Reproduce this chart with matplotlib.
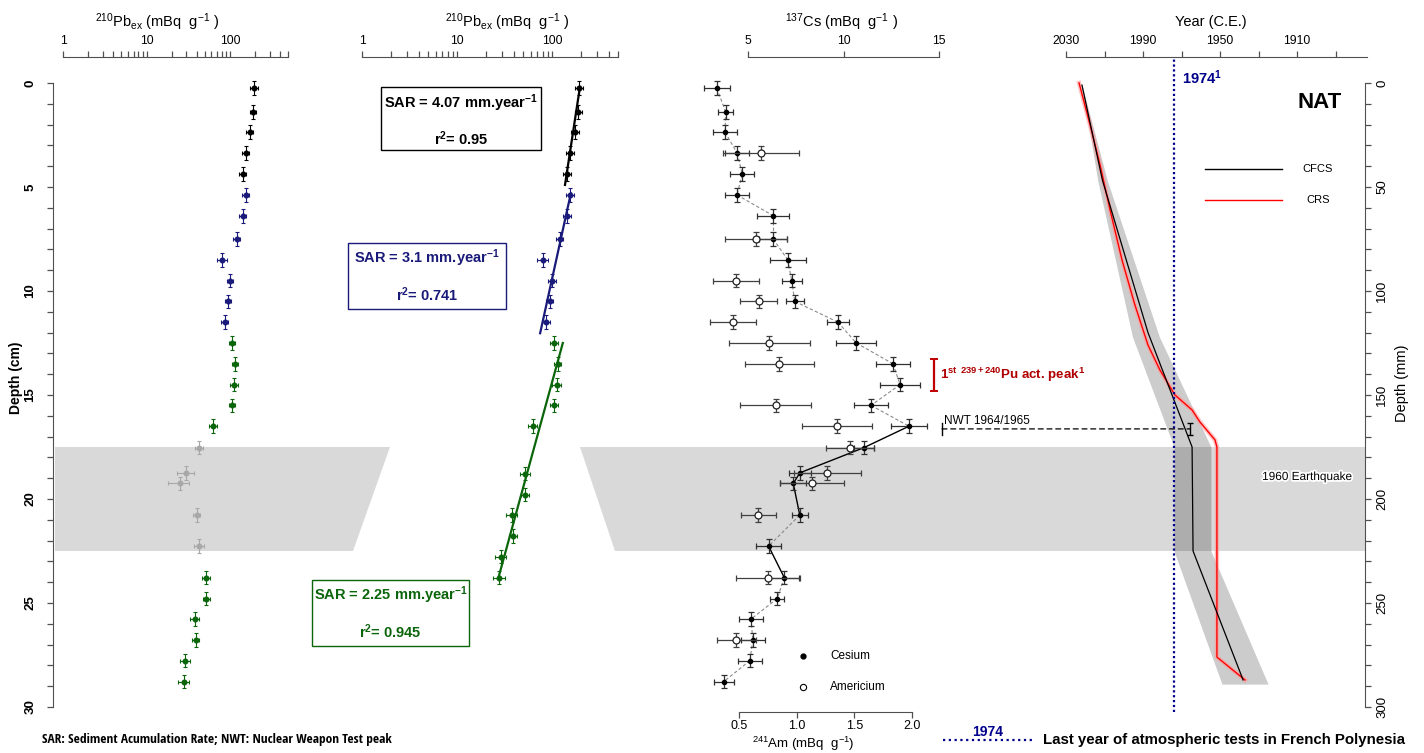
import numpy as np
import matplotlib
matplotlib.use('Agg')
import matplotlib.pyplot as plt
from matplotlib.patches import Polygon, Rectangle, ConnectionPatch
from matplotlib.lines import Line2D
from matplotlib.transforms import blended_transform_factory
from matplotlib.ticker import NullLocator
from matplotlib import font_manager
import matplotlib.patheffects as pe

W, H = 1424, 753
plt.rcParams['font.family'] = ['Liberation Sans', 'DejaVu Sans']
plt.rcParams['mathtext.fontset'] = 'custom'
plt.rcParams['mathtext.rm'] = 'Liberation Sans'
plt.rcParams['mathtext.it'] = 'Liberation Sans:italic'
plt.rcParams['mathtext.bf'] = 'Liberation Sans:bold'

_names = {f.name for f in font_manager.fontManager.ttflist}
NARROW = [n for n in ['Liberation Sans Narrow', 'Open Sans Condensed', 'Arial Narrow']
          if n in _names] + ['Liberation Sans', 'DejaVu Sans']

# ------------------------------------------------------------------ data
slice_depth = [0.25, 1.38, 2.37, 3.38, 4.39, 5.38, 6.38, 7.5, 8.5, 9.5, 10.5, 11.5,
               12.5, 13.5, 14.5, 15.5, 16.5, 17.53, 18.74, 19.25, 20.77, 22.27,
               23.78, 24.79, 25.77, 26.78, 27.77, 28.78]
depth_err = 0.33

pb_val = [194, 189, 174, 155, 143, 155, 143, 121, 80, 100, 95, 87,
          106, 115, 112, 106, 63, 43, 30, 25, 40, 43,
          52, 52, 38, 39, 29, 28]
pb_err = [20, 16, 17, 15, 14, 14, 14, 11, 11, 9, 8, 8,
          10, 10, 11, 10, 7, 5, 7, 7, 4, 6,
          6, 5, 5, 4, 4, 4]
pb_group = ['top'] * 5 + ['mid'] * 7 + ['low'] * 5 + ['event'] * 5 + ['low'] * 6
event_top, event_bot = 17.5, 22.5

fit_top_depth, fit_top_val = [0.18, 4.9], [197, 137]
fit_mid_depth, fit_mid_val = [5.3, 12.03], [158, 75]
fit_low_depth, fit_low_val = [12.5, 23.73], [130, 27.5]
sar_values = ['4.07', '3.1', '2.25']
r2_values = ['0.95', '0.741', '0.945']

cs_val = [3.36, 3.83, 3.80, 4.44, 4.70, 4.42, 6.32, 6.32, 7.08, 7.29, 7.45, 9.71,
          10.67, 12.59, 12.96, 11.44, 13.43, 11.07, 7.72, 7.37, 7.71, 6.08,
          6.90, 6.53, 5.16, 5.25, 5.10, 3.73]
cs_err = [0.68, 0.39, 0.63, 0.63, 0.63, 0.65, 0.84, 0.73, 0.94, 0.52, 0.47, 0.58,
          1.05, 0.89, 1.05, 0.89, 0.94, 0.52, 0.58, 0.68, 0.42, 0.65,
          0.79, 0.37, 0.65, 0.63, 0.63, 0.52]
cs_solid_segments = [16, 17, 18, 19, 21]

am_index = [3, 7, 9, 10, 11, 12, 13, 15, 16, 17, 18, 19, 20, 22, 25]
am_val = [0.69, 0.645, 0.474, 0.673, 0.451, 0.763, 0.85, 0.818, 1.35, 1.463,
          1.266, 1.133, 0.667, 0.751, 0.477]
am_err = [0.33, 0.27, 0.20, 0.16, 0.20, 0.35, 0.30, 0.31, 0.30, 0.21,
          0.29, 0.28, 0.15, 0.28, 0.17]

pu_peak_depth = (13.27, 14.8)
nwt_depth_cm, nwt_year = 16.63, 1965.5

cfcs_depth = [1, 47, 120, 175, 225, 287]
cfcs_year = [2021.7, 2011.0, 1987.4, 1964.5, 1964.0, 1938.0]
env_depth = [1, 47, 122, 175, 225, 289]
env_young = [2021.7, 2013.5, 1995.5, 1973.9, 1973.9, 1949.0]
env_old = [2021.7, 2008.5, 1981.5, 1954.7, 1954.7, 1925.0]
crs_depth = [0, 20.2, 39.4, 61.1, 85.1, 106.7, 126, 138, 150, 157.2, 163, 171.6, 175, 276, 287]
crs_year = [2023.2, 2017.5, 2012.3, 2007.1, 2000.9, 1994.2, 1987.4, 1981.2, 1973.4,
            1964.5, 1960.4, 1952.6, 1951.6, 1951.6, 1937.0]
last_test_year = 1974

log_ticks = [1, 2, 3, 4, 5, 6, 7, 8, 9, 10, 20, 30, 40, 50, 60, 70, 80, 90, 100, 200, 300, 400, 500]
log_labels = {1: '1', 10: '10', 100: '100'}
cs_ticks = [5, 10, 15]
am_ticks = [0.5, 1.0, 1.5, 2.0]
year_ticks = [2030, 2010, 1990, 1970, 1950, 1930, 1910, 1890]
year_labels = {2030: '2030', 1990: '1990', 1950: '1950', 1910: '1910'}

# ------------------------------------------------------------------ colours
C_TOP, C_MID, C_LOW, C_EVT = '#000000', '#1a1a7a', '#0b650b', '#a8a8a8'
group_color = {'top': C_TOP, 'mid': C_MID, 'low': C_LOW, 'event': C_EVT}
AX_C = '#505050'
BAND = '#d9d9d9'
NAVY = '#00008b'

fig = plt.figure(figsize=(W / 100, H / 100), dpi=100)
renderer = fig.canvas.get_renderer()

Y_TOP, Y_BOT = 57, 712       # vertical pixel extent of the panels
Y0, PXCM = 83, 20.8          # pixel of depth 0, pixels per cm


def axes_px(x0, x1):
    ax = fig.add_axes([x0 / W, 1 - Y_BOT / H, (x1 - x0) / W, (Y_BOT - Y_TOP) / H])
    ax.set_facecolor('none')
    for s in ax.spines.values():
        s.set_visible(False)
        s.set_color(AX_C)
    ax.set_ylim((Y_BOT - Y0) / PXCM, (Y_TOP - Y0) / PXCM)
    ax.tick_params(colors=AX_C, labelcolor='black')
    ax.set_yticks([])
    return ax


def ftext(px, py, s, **kw):
    return fig.text(px / W, 1 - py / H, s, **kw)


def fit_width(t, target_px, max_size):
    """shrink a text until it spans target_px pixels"""
    t.set_fontsize(max_size)
    w = t.get_window_extent(renderer).width
    if w > target_px:
        t.set_fontsize(max_size * target_px / w)


def top_axis(ax, ticks, labels, bounds, title, tx):
    ax.xaxis.tick_top()
    ax.spines['top'].set_visible(True)
    ax.spines['top'].set_bounds(*bounds)
    ax.set_xticks(ticks)
    ax.set_xticklabels([labels.get(t, '') for t in ticks])
    ax.xaxis.set_minor_locator(NullLocator())
    ax.tick_params(axis='x', which='major', direction='out', length=4, width=0.9,
                   pad=3, labelsize=8.7)
    ftext(tx, 22, title, ha='center', va='center', fontsize=10.5)


# ----------------------------------------------------------- panel 1
ax1 = axes_px(53, 300)
ax1.set_xscale('log')
ax1.set_xlim(10 ** ((53 - 63) / 83.5), 10 ** ((300 - 63) / 83.5))
top_axis(ax1, log_ticks, log_labels, (1, 500),
         r'$^{210}$Pb$_{\mathrm{ex}}$ (mBq  g$^{-1}$ )', 157)
ax1.spines['left'].set_visible(True)
ax1.spines['left'].set_bounds(0, 30)
ax1.set_yticks(range(0, 31))
ax1.set_yticklabels([str(v) if v % 5 == 0 else '' for v in range(0, 31)],
                    rotation=90, va='center', fontweight='bold', fontsize=9.5)
ax1.tick_params(axis='y', direction='out', length=4, width=0.9, pad=8)
ftext(16, 378, 'Depth (cm)', rotation=90, ha='center', va='center',
      fontweight='bold', fontsize=10)

for g in ['event', 'top', 'mid', 'low']:
    idx = [i for i, gg in enumerate(pb_group) if gg == g]
    ax1.errorbar([pb_val[i] for i in idx], [slice_depth[i] for i in idx],
                 xerr=[pb_err[i] for i in idx], yerr=depth_err, fmt='o',
                 ms=3.3, color=group_color[g], ecolor=group_color[g],
                 elinewidth=0.8, capsize=1.6, capthick=0.8, clip_on=False)

# ----------------------------------------------------------- panel 2
ax2 = axes_px(340, 640)
ax2.set_xscale('log')
ax2.set_xlim(10 ** ((340 - 362) / 95), 10 ** ((640 - 362) / 95))
top_axis(ax2, log_ticks, log_labels, (1, 500),
         r'$^{210}$Pb$_{\mathrm{ex}}$ (mBq  g$^{-1}$ )', 507)
thick = event_bot - event_top
for g in ['top', 'mid', 'low']:
    idx = [i for i, gg in enumerate(pb_group) if gg == g]
    dd = [slice_depth[i] - (thick if slice_depth[i] > event_bot else 0) for i in idx]
    ax2.errorbar([pb_val[i] for i in idx], dd, xerr=[pb_err[i] for i in idx],
                 yerr=depth_err, fmt='o', ms=3.3, color=group_color[g],
                 ecolor=group_color[g], elinewidth=0.8, capsize=1.6, capthick=0.8,
                 clip_on=False)
for dpt, val, col in [(fit_top_depth, fit_top_val, C_TOP),
                      (fit_mid_depth, fit_mid_val, C_MID),
                      (fit_low_depth, fit_low_val, C_LOW)]:
    ax2.plot(val, dpt, color=col, lw=1.6, zorder=5)

# SAR boxes
boxes = [(381, 541, 87, 150, C_TOP, 103, 139),
         (348, 506, 243, 309, C_MID, 258, 295),
         (312, 469, 580, 646, C_LOW, 595, 632)]
for (x0, x1, y0, y1, col, l1, l2), sar, r2 in zip(boxes, sar_values, r2_values):
    fig.add_artist(Rectangle((x0 / W, 1 - y1 / H), (x1 - x0) / W, (y1 - y0) / H,
                             transform=fig.transFigure, fill=False, ec=col, lw=1.0))
    cx = (x0 + x1) / 2
    ftext(cx, l1, 'SAR = ' + sar + r' mm.year$^{\mathbf{-1}}$', ha='center',
          va='center', fontweight='bold', fontsize=10.5, color=col)
    ftext(cx, l2, r'r$^{\mathbf{2}}$= ' + r2, ha='center', va='center',
          fontweight='bold', fontsize=10.5, color=col)

# ----------------------------------------------------------- panel 3
ax3 = axes_px(690, 945)
ax3.set_xlim(5 + (690 - 748) / 19.1, 5 + (945 - 748) / 19.1)
top_axis(ax3, cs_ticks, {t: str(t) for t in cs_ticks}, (5, 15),
         r'$^{137}$Cs (mBq  g$^{-1}$ )', 842)
ax3b = axes_px(690, 945)
ax3b.set_xlim(0.5 + (690 - 739) / 115.3, 0.5 + (945 - 739) / 115.3)
ax3b.spines['bottom'].set_visible(True)
ax3b.spines['bottom'].set_bounds(0.5, 2.0)
ax3b.set_xticks(am_ticks)
ax3b.set_xticklabels(['0.5', '1.0', '1.5', '2.0'])
ax3b.tick_params(axis='x', direction='out', length=4, width=0.9, pad=1.5, labelsize=9)
ftext(803, 744, r'$^{241}$Am (mBq  g$^{-1}$)', ha='center', va='center', fontsize=9.5)

for i in range(len(cs_val) - 1):
    solid = i in cs_solid_segments
    ax3.plot(cs_val[i:i + 2], slice_depth[i:i + 2],
             color='black' if solid else '#8a8a8a',
             lw=1.0 if solid else 0.8, ls='-' if solid else (0, (3, 2)), zorder=2)
ax3.errorbar(cs_val, slice_depth, xerr=cs_err, yerr=depth_err, fmt='o', ms=3,
             color='black', ecolor='#303030', elinewidth=0.9, capsize=2,
             capthick=0.9, zorder=3)
ax3b.errorbar(am_val, [slice_depth[i] for i in am_index], xerr=am_err,
              yerr=depth_err, fmt='o', ms=5, mfc='white', mec='#202020', mew=0.9,
              ecolor='#404040', elinewidth=0.9, capsize=2, capthick=0.9, zorder=4)

# Pu peak marker
ax3.errorbar([5 + (934 - 748) / 19.1], [np.mean(pu_peak_depth)],
             yerr=[(pu_peak_depth[1] - pu_peak_depth[0]) / 2], fmt='none',
             ecolor='#c00000', elinewidth=1.6, capsize=3, capthick=1.4, clip_on=False)
ftext(940, 375, r'1$^{\mathbf{st}}$ $^{\mathbf{239+240}}$Pu act. peak$^{\mathbf{1}}$',
      ha='left', va='center', fontweight='bold', fontsize=9.6, color='#b00000')

# legend of panel 3
fig.add_artist(Line2D([803 / W], [1 - 656 / H], marker='o', ms=3.5, color='black',
                      transform=fig.transFigure))
fig.add_artist(Line2D([803 / W], [1 - 687 / H], marker='o', ms=4.5, mfc='white',
                      mec='black', mew=0.8, color='black', transform=fig.transFigure))
ftext(830, 656, 'Cesium', ha='left', va='center', fontsize=8.5)
ftext(830, 687, 'Americium', ha='left', va='center', fontsize=8.5)

# ----------------------------------------------------------- panel 4
ax4 = axes_px(1060, 1365)
ax4.set_xlim(2030 - (1060 - 1066) / 1.925, 2030 - (1365 - 1066) / 1.925)
ax4.set_ylim((Y_BOT - Y0) / (PXCM / 10), (Y_TOP - Y0) / (PXCM / 10))
top_axis(ax4, year_ticks, year_labels, (2030, 1873.6), 'Year (C.E.)', 1211)
ax4.spines['right'].set_visible(True)
ax4.spines['right'].set_bounds(0, 300)
ax4.yaxis.tick_right()
ax4.set_yticks(range(0, 301, 10))
ax4.set_yticklabels([str(v) if v % 50 == 0 else '' for v in range(0, 301, 10)],
                    rotation=90, va='center', fontsize=9.5)
ax4.tick_params(axis='y', direction='out', length=4, width=0.9, pad=4)
ftext(1402, 383, 'Depth (mm)', rotation=90, ha='center', va='center', fontsize=10.5)

ax4.fill_betweenx(env_depth, env_young, env_old, color='black', alpha=0.2, lw=0, zorder=1)
ax4.plot(crs_year, crs_depth, color='#ff9a9a', lw=3.2, alpha=0.6, zorder=2)
ax4.plot(crs_year, crs_depth, color='#ff0000', lw=1.0, zorder=3)
ax4.plot(cfcs_year, cfcs_depth, color='black', lw=0.9, zorder=4)
ax4.axvline(last_test_year, color=NAVY, lw=1.6, ls=(0, (1, 1.2)), zorder=5)
ax4.errorbar([nwt_year], [nwt_depth_cm * 10], yerr=[3], fmt='none', ecolor='black',
             elinewidth=1.0, capsize=2.5, capthick=1.0, zorder=6)
ftext(1182, 78, r'1974$^{\mathbf{1}}$', ha='left', va='center', fontweight='bold',
      fontsize=10.5, color=NAVY)
ftext(1320, 102, 'NAT', ha='center', va='center', fontweight='bold', fontsize=16)

# legend of panel 4
for py, col, lab in [(169, 'black', 'CFCS'), (200, '#ff0000', 'CRS')]:
    fig.add_artist(Line2D([1205 / W, 1282 / W], [1 - py / H, 1 - py / H], color=col,
                          lw=1.0, transform=fig.transFigure))
    ftext(1318, py, lab, ha='center', va='center', fontsize=8)

# NWT connector
x_nwt0 = 5 + (942 - 748) / 19.1
con = ConnectionPatch(xyA=(x_nwt0, nwt_depth_cm), coordsA=ax3.transData,
                      xyB=(nwt_year, nwt_depth_cm * 10), coordsB=ax4.transData,
                      color='black', lw=0.9, ls=(0, (4, 3)))
fig.add_artist(con)
ax3.plot([x_nwt0, x_nwt0], [nwt_depth_cm - 0.28, nwt_depth_cm + 0.28], color='black',
         lw=1.0, clip_on=False)
ftext(944, 421, 'NWT 1964/1965', ha='left', va='center', fontsize=8.5)

# earthquake band across panels (figure-wide)
btr = blended_transform_factory(fig.transFigure, ax1.transData)
for poly in [[(55, event_top), (390, event_top), (353, event_bot), (55, event_bot)],
             [(580, event_top), (1365, event_top), (1365, event_bot), (615, event_bot)]]:
    fig.add_artist(Polygon([(x / W, y) for x, y in poly], closed=True, transform=btr,
                           fc=BAND, ec='none', zorder=-1))
ftext(1307, 477, '1960 Earthquake', ha='center', va='center', fontsize=8.5,
      path_effects=[pe.withStroke(linewidth=2.5, foreground='white')])

# bottom notes
t_sar = ftext(42, 739, 'SAR: Sediment Acumulation Rate; NWT: Nuclear Weapon Test peak',
              ha='left', va='center', fontweight='bold', family=NARROW)
fit_width(t_sar, 351, 10.5)
fig.add_artist(Line2D([943 / W, 1033 / W], [1 - 740 / H, 1 - 740 / H], color=NAVY,
                      lw=1.6, ls=(0, (1, 1.6)), transform=fig.transFigure))
ftext(988, 732, '1974', ha='center', va='center', fontweight='bold', fontsize=10,
      color=NAVY)
t_last = ftext(1043, 740, 'Last year of atmospheric tests in French Polynesia',
               ha='left', va='center', fontweight='bold')
fit_width(t_last, 362, 10.8)

fig.savefig('out.png', dpi=100)
